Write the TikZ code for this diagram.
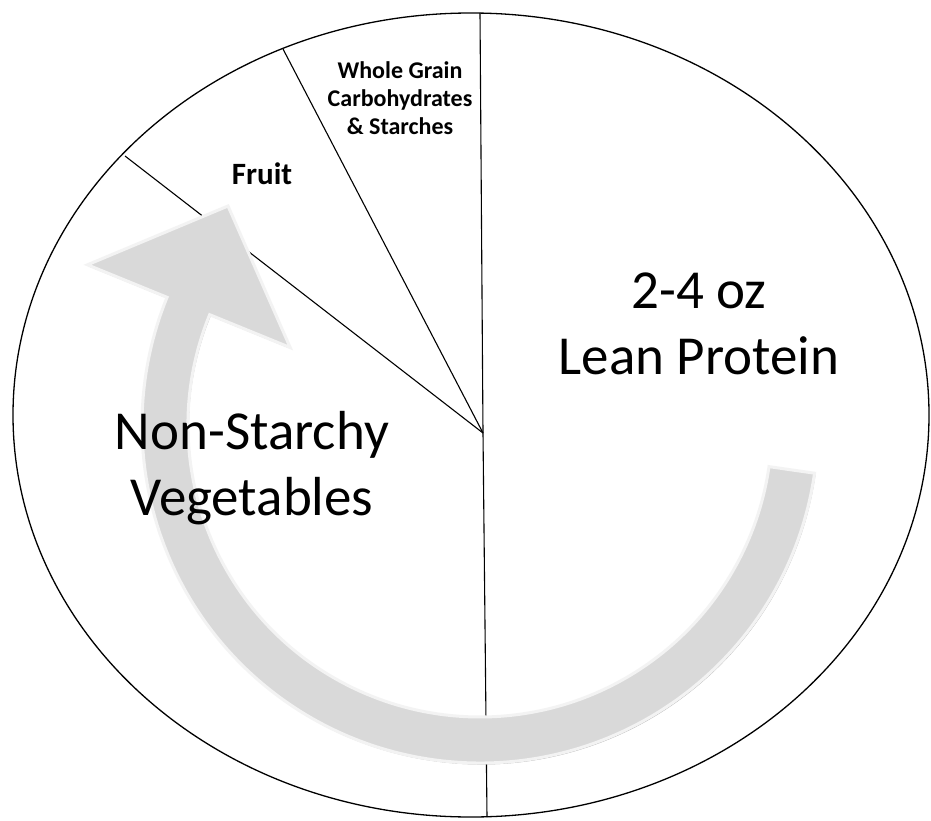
\documentclass[tikz,border=0pt]{standalone}
\usepackage{fontspec}
\setmainfont{Carlito}
\definecolor{arrowgray}{RGB}{217,217,217}
\definecolor{arrowrim}{RGB}{243,243,243}

\begin{document}
\begin{tikzpicture}[
    x=1pt, y=-1pt,
    plate/.style={draw, line width=1.3pt},
    divider/.style={draw, line width=1.1pt},
    turn/.style={fill=arrowgray, draw=arrowrim, line width=3pt, line join=miter,
        preaction={fill=black!30, transform canvas={shift={(1pt,-1.5pt)}}}},
    bigtext/.style={align=center, inner sep=0pt, font=\fontsize{55}{66}\selectfont},
    smalltext/.style={align=center, inner sep=0pt, font=\bfseries\fontsize{24}{28}\selectfont}
]

\fill[white] (0,0) rectangle (931,821);
\useasboundingbox (0,0) rectangle (931,821);

\coordinate (hub) at (483,433);
\coordinate (topedge) at (480,13);
\coordinate (bottomedge) at (487,817);
\coordinate (grainedge) at (283,49);
\coordinate (fruitedge) at (125,156);
\coordinate (bend) at (480,425);
\coordinate (tip) at (228,206);

\draw[plate] (471,415) ellipse [x radius=458, y radius=402];

\draw[divider] (topedge) -- (hub) -- (bottomedge);
\draw[divider] (hub) -- (grainedge);
\draw[divider] (hub) -- (fruitedge);

\draw[turn] ([shift={(bend)}]8.2:338) arc[start angle=8.2, end angle=202.2, radius=338]
    -- ([shift={(bend)}]202.2:424) -- (tip) -- ([shift={(bend)}]202.2:205)
    -- ([shift={(bend)}]202.2:292) arc[start angle=202.2, end angle=8.2, radius=292] -- cycle;

\node[bigtext] (protein) at (699,324) {2-4 oz\\Lean Protein};
\node[bigtext] (veggies) at (252,468) {Non-Starchy\\Vegetables};
\node[smalltext] (grains) at (400,98) {Whole Grain\\Carbohydrates\\\& Starches};
\node[anchor=base, inner sep=0pt, font=\bfseries\fontsize{31}{36}\selectfont] (fruit) at (262,185) {Fruit};

\end{tikzpicture}
\end{document}
